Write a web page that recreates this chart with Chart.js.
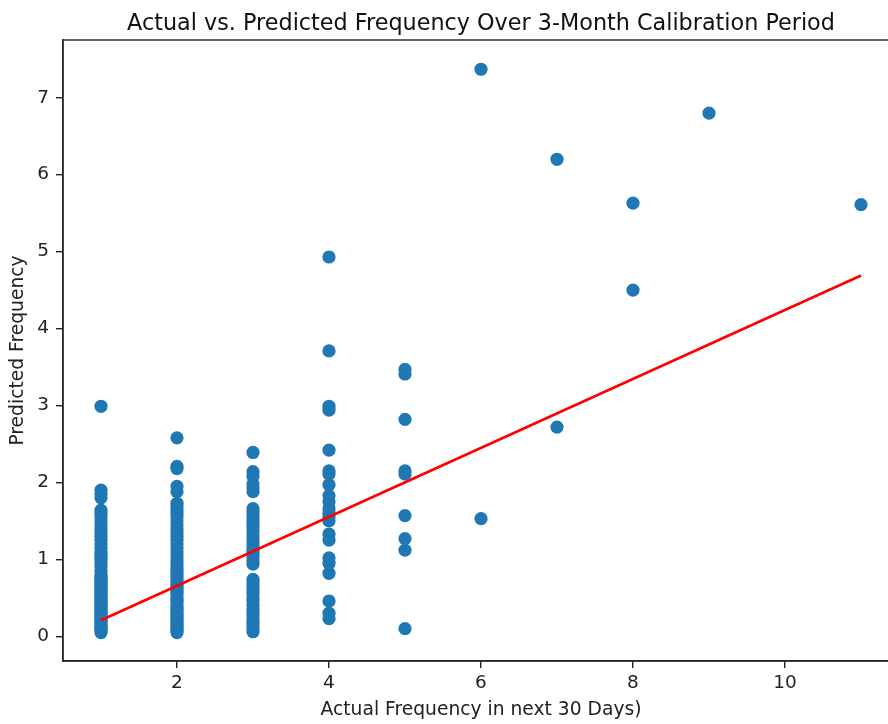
<!DOCTYPE html>
<html>
<head>
<meta charset="utf-8">
<script src="https://cdn.jsdelivr.net/npm/chart.js@4.4.0/dist/chart.umd.min.js"></script>
<style>
  html, body { margin: 0; padding: 0; background: #fff; }
  #marco { width: 888px; height: 724px; overflow: hidden; position: relative; }
  #caja { width: 920px; height: 724px; position: absolute; left: 0; top: 0; }
</style>
</head>
<body>
<div id="marco"><div id="caja"><canvas id="grafico"></canvas></div></div>
<script>
var pred1 = [0.05, 0.08, 0.10, 0.12, 0.15, 0.18, 0.20, 0.22, 0.25, 0.28, 0.30, 0.33, 0.35, 0.38,
  0.40, 0.43, 0.45, 0.48, 0.50, 0.53, 0.55, 0.58, 0.60, 0.63, 0.65, 0.68, 0.70, 0.73, 0.75, 0.78,
  0.80, 0.85, 0.90, 0.95, 1.00, 1.03, 1.07, 1.10, 1.15, 1.20, 1.25, 1.30, 1.35, 1.40, 1.45, 1.50,
  1.55, 1.60, 1.64, 1.80, 1.85, 1.90, 2.99];
var pred2 = [0.05, 0.08, 0.10, 0.13, 0.15, 0.18, 0.20, 0.23, 0.25, 0.28, 0.30, 0.34, 0.37, 0.40,
  0.44, 0.47, 0.50, 0.54, 0.57, 0.60, 0.64, 0.67, 0.70, 0.74, 0.78, 0.82, 0.86, 0.90, 0.95, 1.00,
  1.05, 1.10, 1.15, 1.20, 1.25, 1.30, 1.35, 1.40, 1.45, 1.50, 1.55, 1.60, 1.65, 1.70, 1.73, 1.88,
  1.95, 2.18, 2.21, 2.58];
var pred3 = [0.06, 0.10, 0.14, 0.18, 0.22, 0.27, 0.32, 0.36, 0.41, 0.46, 0.50, 0.55, 0.60, 0.65,
  0.70, 0.74, 0.94, 0.98, 1.03, 1.08, 1.12, 1.17, 1.22, 1.27, 1.32, 1.37, 1.42, 1.47, 1.52, 1.57,
  1.62, 1.66, 1.88, 1.93, 1.98, 2.08, 2.14, 2.39];
var pred4 = [0.23, 0.30, 0.46, 0.82, 0.95, 1.02, 1.25, 1.33, 1.50, 1.55, 1.60, 1.66, 1.75, 1.83,
  1.97, 2.11, 2.15, 2.42, 2.94, 2.99, 3.71, 4.93];
var pred5 = [0.10, 1.12, 1.27, 1.57, 2.11, 2.15, 2.82, 3.41, 3.47];
var pred6 = [1.53, 7.37];
var pred7 = [2.72, 6.20];
var pred8 = [4.50, 5.63];
var pred9 = [6.80];
var pred11 = [5.61];

// Recta de ajuste
var ajusteX = [1, 11];
var ajusteY = [0.21, 4.69];

// Marcas de los ejes
var ticksX = [2, 4, 6, 8, 10];
var ticksY = [0, 1, 2, 3, 4, 5, 6, 7];

var grupos = [[1, pred1], [2, pred2], [3, pred3], [4, pred4], [5, pred5],
  [6, pred6], [7, pred7], [8, pred8], [9, pred9], [11, pred11]];
var puntos = [];
grupos.forEach(function (g) {
  g[1].forEach(function (v) { puntos.push({ x: g[0], y: v }); });
});
var recta = ajusteX.map(function (x, i) { return { x: x, y: ajusteY[i] }; });

var fuente = 'DejaVu Sans';
var tinta = '#222';

// Marco completo del área y título centrado sobre los ejes (estilo matplotlib)
var marcoPlugin = {
  id: 'marco',
  afterDraw: function (chart) {
    var a = chart.chartArea, c = chart.ctx;
    c.save();
    c.strokeStyle = tinta;
    c.lineWidth = 1.4;
    c.strokeRect(a.left, a.top, a.right - a.left, a.bottom - a.top);
    c.fillStyle = '#111';
    c.font = '22.3px "' + fuente + '"';
    c.textAlign = 'center';
    c.textBaseline = 'alphabetic';
    c.fillText('Actual vs. Predicted Frequency Over 3-Month Calibration Period', (a.left + a.right) / 2, 30);
    c.restore();
  }
};

var ctx = document.getElementById('grafico').getContext('2d');
var grafico = new Chart(ctx, {
  type: 'scatter',
  data: {
    datasets: [{
      type: 'line',
      label: 'Ajuste',
      data: recta,
      borderColor: '#ff0000',
      borderWidth: 2.6,
      pointRadius: 0,
      fill: false,
      order: 0
    }, {
      label: 'Predicción',
      data: puntos,
      backgroundColor: '#1f77b4',
      borderWidth: 0,
      pointRadius: 6.6,
      pointHoverRadius: 6.6,
      order: 1
    }]
  },
  options: {
    responsive: true,
    maintainAspectRatio: false,
    animation: false,
    events: [],
    layout: { padding: { top: 40, right: 21, left: 0, bottom: 0 } },
    plugins: {
      legend: { display: false },
      tooltip: { enabled: false },
      title: { display: false }
    },
    scales: {
      x: {
        type: 'linear',
        min: 0.5,
        max: 11.5,
        afterFit: function (s) { s.height = 63; },
        afterBuildTicks: function (s) { s.ticks = ticksX.map(function (v) { return { value: v }; }); },
        grid: { display: true, drawOnChartArea: false, drawTicks: true, tickLength: 7, lineWidth: 1.4, color: tinta },
        border: { display: true, color: tinta, width: 1.4 },
        ticks: { color: tinta, font: { family: fuente, size: 18.5 }, padding: 4, maxRotation: 0 },
        title: { display: true, text: 'Actual Frequency in next 30 Days)', color: tinta,
          font: { family: fuente, size: 18.7 }, padding: { top: 0, bottom: 3 } }
      },
      y: {
        type: 'linear',
        min: -0.32,
        max: 7.75,
        afterFit: function (s) { s.width = 63; },
        afterBuildTicks: function (s) { s.ticks = ticksY.map(function (v) { return { value: v }; }); },
        grid: { display: true, drawOnChartArea: false, drawTicks: true, tickLength: 7, lineWidth: 1.4, color: tinta },
        border: { display: true, color: tinta, width: 1.4 },
        ticks: { color: tinta, font: { family: fuente, size: 18.5 }, padding: 7 },
        title: { display: true, text: 'Predicted Frequency', color: tinta,
          font: { family: fuente, size: 18.7 }, padding: { top: 7, bottom: 0 } }
      }
    }
  },
  plugins: [marcoPlugin]
});
</script>
</body>
</html>
